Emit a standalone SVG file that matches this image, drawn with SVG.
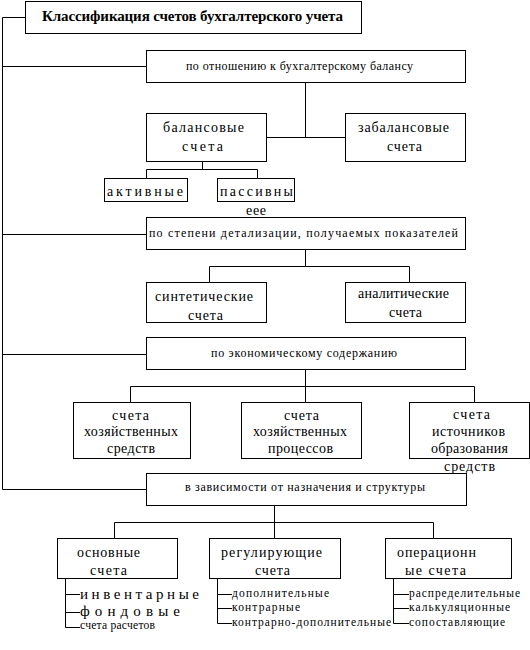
<svg xmlns="http://www.w3.org/2000/svg" width="530" height="650" viewBox="0 0 530 650">
<style>
rect{fill:#fff;stroke:#000;stroke-width:1}
.c path{fill:none;stroke:#000;stroke-width:1}
text{font-family:'Liberation Serif','Times New Roman',serif;fill:#000;font-size:14px}
.t{font-weight:bold;font-size:15px}
.k{font-size:12px}
.l{font-size:11.5px}
.lb{font-size:15px}
</style>
<rect x="0" y="0" width="530" height="650" style="stroke:none"/>
<g class="c" id="connectors">
<path d="M2.5 17.5V489.5M2.5 17.5H25.5M2.5 66.5H146.5M2.5 234.5H146.5M2.5 354.5H146.5M2.5 489.5H146.5"/>
<path d="M305.5 82.5V137.5M266.5 137.5H345.5"/>
<path d="M202.5 161.5V169.5M146.5 169.5H257.5M146.5 169.5V178.5M257.5 169.5V178.5"/>
<path d="M305.5 249.5V266.5M209.5 266.5H409.5M209.5 266.5V282.5M409.5 266.5V282.5"/>
<path d="M305.5 369.5V402.5M130.5 386.5H474.5M130.5 386.5V402.5M474.5 386.5V402.5"/>
<path d="M274.5 505.5V538.5M114.5 522.5H433.5M114.5 522.5V538.5M433.5 522.5V538.5"/>
<path d="M65.5 578.5V627.5M65.5 594.5H80M65.5 612.5H80M65.5 627.5H80"/>
<path d="M217.5 578.5V623.5M217.5 594.5H232M217.5 608.5H232M217.5 623.5H232"/>
<path d="M393.5 578.5V623.5M393.5 594.5H409M393.5 608.5H409M393.5 623.5H409"/>
</g>
<g id="title"><rect x="25.5" y="1.5" width="336" height="32"/><text class="t" x="42" y="21" textLength="301">Классификация счетов бухгалтерского учета</text></g>
<g id="crit1"><rect x="146.5" y="50.5" width="319" height="32"/><text class="k" x="186" y="70" textLength="227">по отношению к бухгалтерскому балансу</text></g>
<g id="balans"><rect x="146.5" y="113.5" width="120" height="48"/><text x="163" y="132" textLength="81">балансовые</text><text x="182" y="151" textLength="41">счета</text></g>
<g id="zabalans"><rect x="345.5" y="113.5" width="120" height="48"/><text x="358" y="132" textLength="91">забалансовые</text><text x="387" y="151" textLength="35">счета</text></g>
<g id="aktiv"><rect x="104.5" y="178.5" width="83" height="23"/><text x="107" y="196" textLength="76">активные</text></g>
<g id="passiv"><rect x="217.5" y="178.5" width="77" height="23"/><text x="220" y="196" textLength="73">пассивны</text><text x="246" y="215" textLength="20">еее</text></g>
<g id="crit2"><rect x="146.5" y="217.5" width="319" height="32"/><text class="k" x="149" y="237" textLength="309">по степени детализации, получаемых показателей</text></g>
<g id="sint"><rect x="146.5" y="282.5" width="120" height="40"/><text x="155" y="301" textLength="98">синтетические</text><text x="188" y="320" textLength="35">счета</text></g>
<g id="anal"><rect x="345.5" y="282.5" width="120" height="40"/><text x="358" y="298" textLength="91">аналитические</text><text x="389" y="317" textLength="33">счета</text></g>
<g id="crit3"><rect x="146.5" y="337.5" width="319" height="32"/><text class="k" x="211" y="357" textLength="186">по экономическому содержанию</text></g>
<g id="sredstv"><rect x="73.5" y="402.5" width="117" height="56"/><text x="112" y="420" textLength="37">счета</text><text x="84" y="436" textLength="94">хозяйственных</text><text x="107" y="453" textLength="48">средств</text></g>
<g id="process"><rect x="241.5" y="402.5" width="120" height="56"/><text x="284" y="420" textLength="35">счета</text><text x="253" y="436" textLength="94">хозяйственных</text><text x="268" y="453" textLength="65">процессов</text></g>
<g id="istoch"><rect x="409.5" y="402.5" width="120" height="56"/><text x="453" y="419" textLength="37">счета</text><text x="432" y="436" textLength="73">источников</text><text x="431" y="453" textLength="77">образования</text><text x="444" y="471" textLength="51">средств</text></g>
<g id="crit4"><rect x="146.5" y="473.5" width="320" height="32"/><text class="k" x="185" y="491" textLength="240">в зависимости от назначения и структуры</text></g>
<g id="osnov"><rect x="57.5" y="538.5" width="120" height="40"/><text x="77" y="557" textLength="63">основные</text><text x="90" y="575" textLength="37">счета</text></g>
<g id="regul"><rect x="209.5" y="538.5" width="131" height="40"/><text x="221" y="557" textLength="101">регулирующие</text><text x="255" y="575" textLength="35">счета</text></g>
<g id="oper"><rect x="385.5" y="538.5" width="126" height="40"/><text x="397" y="557" textLength="79">операционн</text><text x="405" y="575" textLength="61">ые счета</text></g>
<g id="leaves1"><text class="lb" x="80" y="599" textLength="119">инвентарные</text><text class="lb" x="80" y="616" textLength="100">фондовые</text><text class="l" x="80" y="629" textLength="75">счета расчетов</text></g>
<g id="leaves2"><text class="l" x="232" y="597" textLength="97">дополнительные</text><text class="l" x="232" y="611" textLength="68">контрарные</text><text class="l" x="232" y="626" textLength="159">контрарно-дополнительные</text></g>
<g id="leaves3"><text class="l" x="409" y="597" textLength="111">распределительные</text><text class="l" x="409" y="611" textLength="101">калькуляционные</text><text class="l" x="409" y="626" textLength="96">сопоставляющие</text></g>
</svg>
